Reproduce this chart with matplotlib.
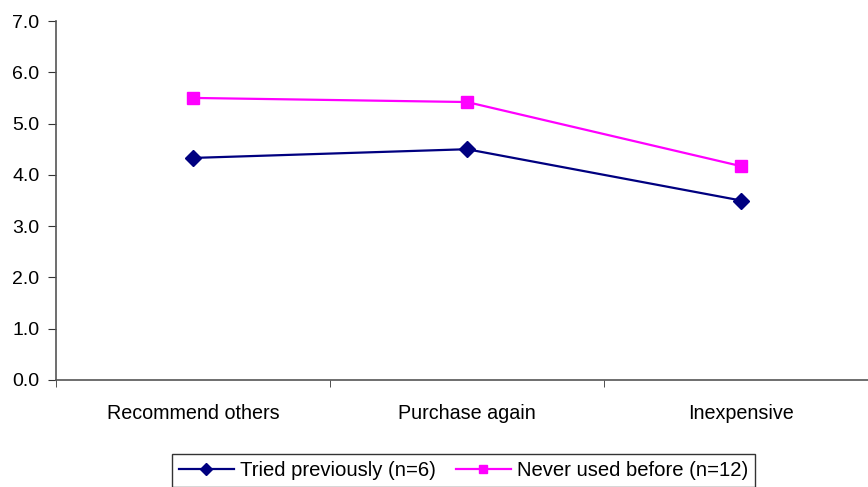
import matplotlib
matplotlib.use("Agg")
import matplotlib.pyplot as plt
import numpy as np

plt.rcParams['font.family'] = ['Liberation Sans', 'DejaVu Sans']

categories = ["Recommend others", "Purchase again", "Inexpensive"]
tried_previously = [4.33, 4.50, 3.50]
never_used = [5.50, 5.42, 4.17]
series_labels = ["Tried previously (n=6)", "Never used before (n=12)"]
y_ticks = [0, 1, 2, 3, 4, 5, 6, 7]

W, H = 868, 487
fig = plt.figure(figsize=(W / 100, H / 100), dpi=100)
ax = fig.add_axes([56 / W, 1 - 380 / H, 822 / W, 359 / H])

x = np.arange(len(categories))
ax.plot(x, tried_previously, color="#000080", lw=1.6, marker="D", ms=8,
        label=series_labels[0])
ax.plot(x, never_used, color="#FF00FF", lw=1.6, marker="s", ms=8,
        label=series_labels[1])

ax.set_xlim(-0.5, len(categories) - 0.5)
ax.set_ylim(0, 7)
ax.set_yticks(y_ticks)
ax.set_yticklabels([f"{v:.1f}" for v in y_ticks], fontsize=14)
ax.set_xticks(x)
ax.set_xticklabels(categories, fontsize=14.2)
ax.set_xticks(np.arange(len(categories) + 1) - 0.5, minor=True)
ax.tick_params(axis="x", which="major", length=0, pad=17)
ax.tick_params(axis="x", which="minor", length=5, direction="out", color="#333333")
ax.tick_params(axis="y", length=6, direction="out", pad=6, color="#333333")

for s in ["top", "right"]:
    ax.spines[s].set_visible(False)
for s in ["left", "bottom"]:
    ax.spines[s].set_color("#555555")
    ax.spines[s].set_linewidth(1.2)

leg = fig.legend(loc="upper left", bbox_to_anchor=(172 / W, 1 - 454 / H),
                 ncol=2, fontsize=14.6, frameon=True, fancybox=False,
                 edgecolor="black", borderaxespad=0, handlelength=2.7,
                 columnspacing=1.0, handletextpad=0.3, borderpad=0.35,
                 markerscale=0.8)
leg.get_frame().set_linewidth(1.0)

fig.savefig("out.png", dpi=100)
